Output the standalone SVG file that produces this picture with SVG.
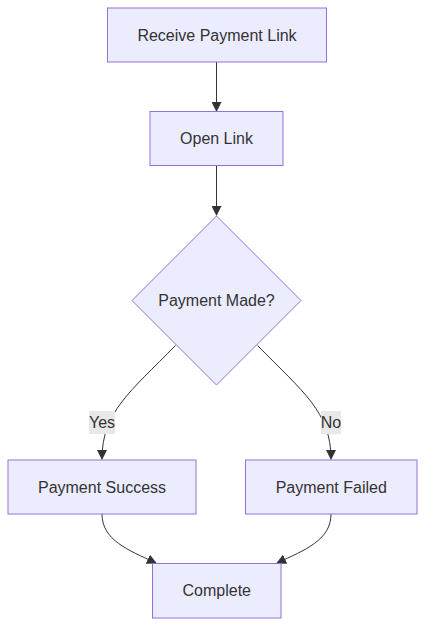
<svg xmlns="http://www.w3.org/2000/svg" width="425" height="627" viewBox="0 0 425 627">
<style>
.node rect,.node polygon{fill:#ECECFF;stroke:#9370DB;stroke-width:1px}
.node text{font-family:"Liberation Sans",Arial,sans-serif;font-size:16px;fill:#333;text-anchor:middle;dominant-baseline:central}
.edges path{fill:none;stroke:#333;stroke-width:1px}
.lbl rect{fill:#e8e8e8}
.lbl text{font-family:"Liberation Sans",Arial,sans-serif;font-size:16px;fill:#333;text-anchor:middle;dominant-baseline:central}
</style>
<defs>
<marker id="arr" viewBox="0 0 10 10" refX="9" refY="5" markerUnits="userSpaceOnUse" markerWidth="10" markerHeight="10" orient="auto">
<path d="M0,0 L10,5 L0,10 z" fill="#333" stroke="none"/>
</marker>
</defs>
<rect width="425" height="627" fill="#fff"/>
<g class="edges">
<path d="M216.5,62 L216.5,111" marker-end="url(#arr)"/>
<path d="M216.5,166 L216.5,215" marker-end="url(#arr)"/>
<path d="M175.5,345.5 C130,392 102,412 102,459" marker-end="url(#arr)"/>
<path d="M257.5,345.5 C303,392 331,412 331,459" marker-end="url(#arr)"/>
<path d="M102,514 C102,540 128,550 156,563" marker-end="url(#arr)"/>
<path d="M331,514 C331,540 305,550 277,563" marker-end="url(#arr)"/>
</g>
<g class="lbl">
<rect x="89" y="411" width="26" height="23"/>
<text x="102" y="422.5">Yes</text>
<rect x="321" y="411" width="20" height="23"/>
<text x="331" y="422.5">No</text>
</g>
<g id="n1" class="node"><rect x="107.5" y="8" width="219" height="54"/><text x="217" y="35">Receive Payment Link</text></g>
<g id="n2" class="node"><rect x="150" y="111.5" width="133" height="54"/><text x="216.5" y="138.5">Open Link</text></g>
<g id="n3" class="node"><polygon points="216.5,216 301,300.5 216.5,385 132,300.5"/><text x="216.5" y="300.5">Payment Made?</text></g>
<g id="n4" class="node"><rect x="8" y="460" width="188" height="54"/><text x="102" y="487">Payment Success</text></g>
<g id="n5" class="node"><rect x="245.5" y="460" width="171.5" height="54"/><text x="331.25" y="487">Payment Failed</text></g>
<g id="n6" class="node"><rect x="152.5" y="563.5" width="128.5" height="54.5"/><text x="216.75" y="590.5">Complete</text></g>
</svg>
